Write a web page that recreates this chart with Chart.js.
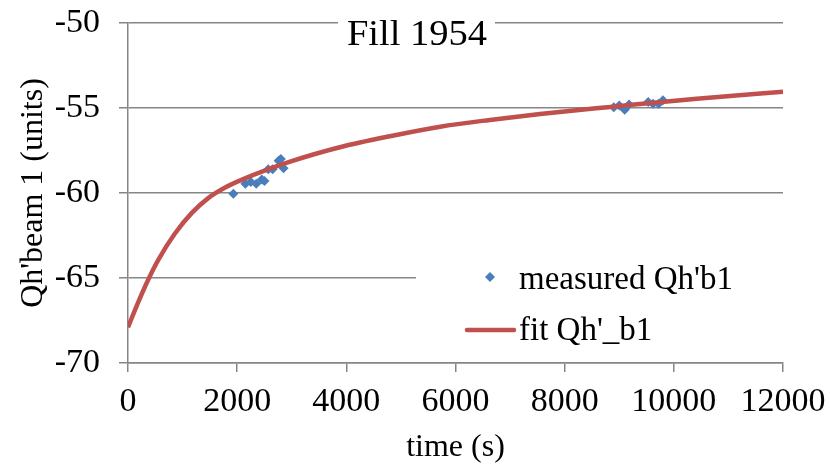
<!DOCTYPE html>
<html>
<head>
<meta charset="utf-8">
<title>Fill 1954</title>
<script src="https://cdn.jsdelivr.net/npm/chart.js@4/dist/chart.umd.min.js"></script>
<style>
  html, body { margin: 0; padding: 0; background: #fff; }
  #wrap { width: 830px; height: 464px; position: relative; }
</style>
</head>
<body>
<div id="wrap"><canvas id="qhChart"></canvas></div>
<script>
// Measured chromaticity samples (time in s, Qh' in units)
const measuredTime = [1930, 2150, 2250, 2350, 2450, 2500, 2570, 2650, 2760, 2800, 2850,
                      8900, 9000, 9100, 9180, 9530, 9620, 9720, 9800];
const measuredQh = [-60.05, -59.45, -59.35, -59.45, -59.2, -59.3, -58.6, -58.6, -58.1, -58.0, -58.55,
                    -54.95, -54.85, -55.1, -54.8, -54.65, -54.75, -54.75, -54.55];

// Fitted decay curve, sampled along the time axis
const fitTime = [0, 190, 370, 555, 860, 1170, 1470, 1780, 2100, 2970, 3880, 4800, 5720, 6630, 7550, 8890, 10420, 12000];
const fitQh = [-67.9, -66.4, -65.1, -63.93, -62.38, -61.17, -60.3, -59.68, -59.2, -58.16, -57.31, -56.66, -56.1, -55.7, -55.35, -54.92, -54.45, -54.05];

// Axis ticks
const xTicks = [0, 2000, 4000, 6000, 8000, 10000, 12000];
const yTicks = [-70, -65, -60, -55, -50];

const chartTitle = 'Fill 1954';
const legendLabels = ["measured Qh'b1", "fit Qh'_b1"];

const SERIF = "'Liberation Serif', 'Times New Roman', serif";
const GRID = '#868686';
const BLUE = '#4A7EBB';
const RED = '#C0504D';

document.addEventListener('DOMContentLoaded', function() {
  const ctx = document.getElementById('qhChart').getContext('2d');

  // draw text slightly widened, the way the serif title looks in the original export
  function wideText(c, text, x, y, stretch) {
    c.save();
    c.translate(x, y);
    c.scale(stretch, 1);
    c.fillText(text, 0, 0);
    c.restore();
  }

  // Title with a white patch behind it, sitting on the top gridline
  const titlePlugin = {
    id: 'fillTitle',
    afterDraw(chart) {
      const c = chart.ctx;
      const area = chart.chartArea;
      c.save();
      c.fillStyle = '#fff';
      c.fillRect(338, area.top - 3, 157, 8);
      c.fillStyle = '#000';
      c.font = `36px ${SERIF}`;
      c.textAlign = 'center';
      c.textBaseline = 'alphabetic';
      wideText(c, chartTitle, 417, 45, 1.07);
      c.restore();
    }
  };

  // Legend box inside the plot, lower right
  const legendPlugin = {
    id: 'innerLegend',
    afterDraw(chart) {
      const c = chart.ctx;
      const area = chart.chartArea;
      c.save();
      c.fillStyle = '#fff';
      c.fillRect(416, 250, area.right - 416, area.bottom - 2 - 250);

      // diamond marker
      c.fillStyle = BLUE;
      c.beginPath();
      c.moveTo(490, 272);
      c.lineTo(495, 277);
      c.lineTo(490, 282);
      c.lineTo(485, 277);
      c.closePath();
      c.fill();

      // line sample
      c.strokeStyle = RED;
      c.lineWidth = 4.5;
      c.lineCap = 'round';
      c.beginPath();
      c.moveTo(467, 330);
      c.lineTo(514, 330);
      c.stroke();

      c.fillStyle = '#000';
      c.font = `33px ${SERIF}`;
      c.textAlign = 'left';
      c.textBaseline = 'middle';
      c.fillText(legendLabels[0], 519, 280);
      c.fillText(legendLabels[1], 519, 331);
      c.restore();
    }
  };

  new Chart(ctx, {
    type: 'scatter',
    data: {
      datasets: [{
        label: legendLabels[0],
        data: measuredTime.map((t, i) => ({ x: t, y: measuredQh[i] })),
        pointStyle: 'rectRot',
        pointRadius: 5,
        backgroundColor: BLUE,
        borderColor: BLUE,
        borderWidth: 0,
        order: 2
      }, {
        label: legendLabels[1],
        data: fitTime.map((t, i) => ({ x: t, y: fitQh[i] })),
        showLine: true,
        pointRadius: 0,
        borderColor: RED,
        borderWidth: 4.5,
        cubicInterpolationMode: 'monotone',
        order: 1
      }]
    },
    options: {
      responsive: true,
      maintainAspectRatio: false,
      animation: false,
      layout: { padding: { top: 23, right: 47, bottom: 0, left: 0 } },
      plugins: {
        legend: { display: false },
        title: { display: false },
        tooltip: { enabled: false }
      },
      scales: {
        x: {
          type: 'linear',
          min: 0,
          max: 12000,
          afterBuildTicks: scale => { scale.ticks = xTicks.map(v => ({ value: v })); },
          afterFit: scale => {
            scale.height = 101;
            scale.paddingLeft = 0;
            scale.paddingRight = 0;
          },
          ticks: {
            color: '#000',
            padding: 10,
            maxRotation: 0,
            font: { family: SERIF, size: 34 },
            callback: v => String(v)
          },
          grid: { drawOnChartArea: false, drawTicks: true, tickLength: 9, color: GRID, lineWidth: 1.5 },
          border: { color: GRID, width: 1.5 },
          title: {
            display: true,
            text: 'time (s)',
            color: '#000',
            font: { family: SERIF, size: 32, lineHeight: 1 },
            padding: { top: 0, bottom: 0 }
          }
        },
        y: {
          type: 'linear',
          min: -70,
          max: -50,
          afterBuildTicks: scale => { scale.ticks = yTicks.map(v => ({ value: v })); },
          afterFit: scale => {
            scale.width = 128;
            scale.paddingTop = 0;
            scale.paddingBottom = 0;
          },
          ticks: {
            color: '#000',
            padding: 19,
            font: { family: SERIF, size: 34 },
            callback: v => String(v)
          },
          grid: { drawTicks: true, tickLength: 9, color: GRID, lineWidth: 1.5 },
          border: { color: GRID, width: 1.5 },
          title: {
            display: true,
            text: "Qh'beam 1 (units)",
            color: '#000',
            font: { family: SERIF, size: 32, lineHeight: 1.2 },
            padding: { top: 14, bottom: 0 }
          }
        }
      }
    },
    plugins: [titlePlugin, legendPlugin]
  });
});
</script>
</body>
</html>
